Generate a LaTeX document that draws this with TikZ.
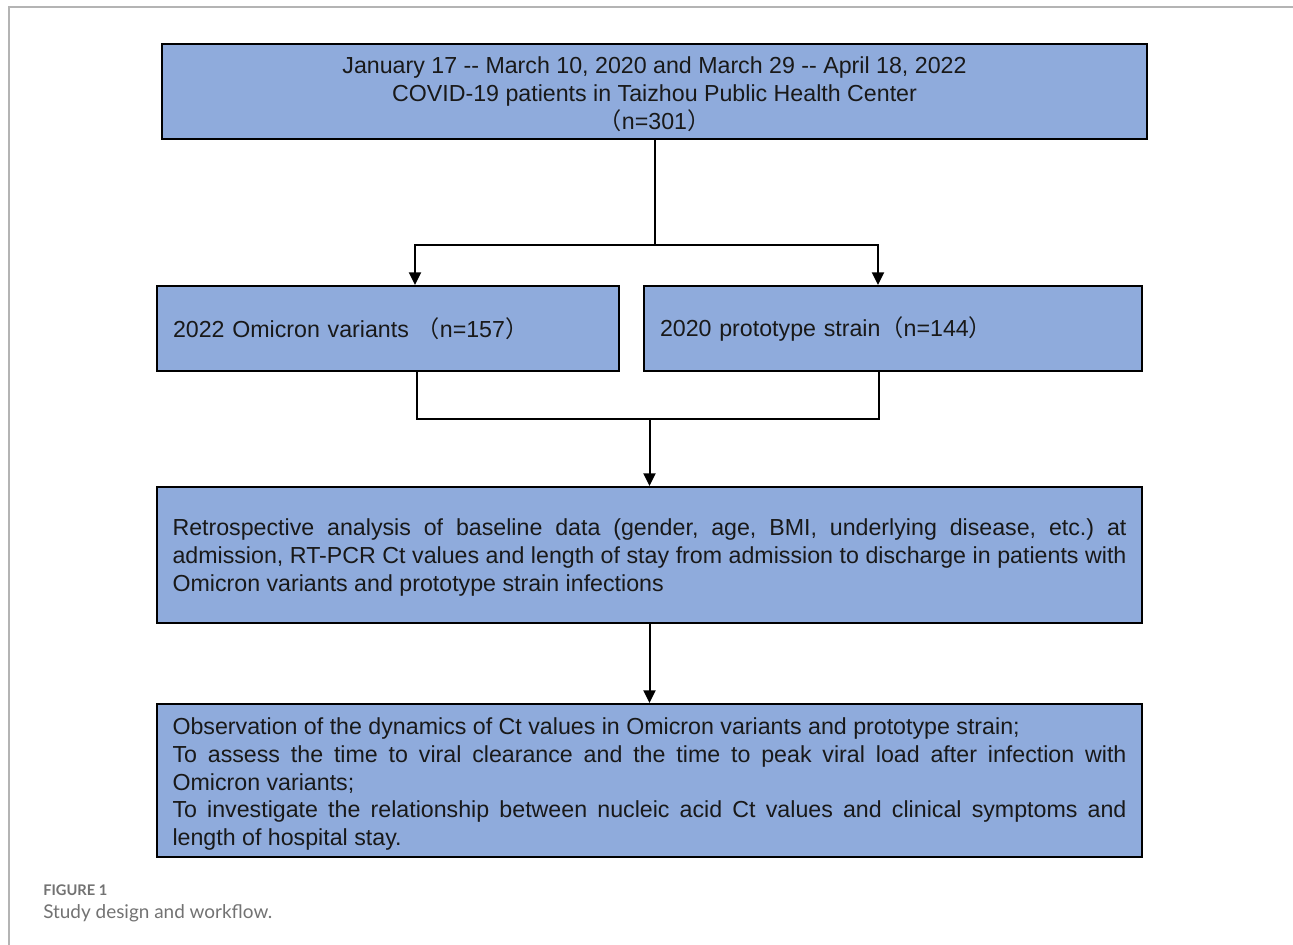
\documentclass[tikz,border=0pt]{standalone}
\usepackage{fontspec}
\setmainfont{Liberation Sans}
\newfontfamily\cjk{Noto Sans CJK SC}
\newfontfamily\capfont{Lato}
\usetikzlibrary{arrows.meta,calc}
\definecolor{boxblue}{HTML}{8FABDC}
\definecolor{capgray}{HTML}{727272}
\definecolor{framegray}{HTML}{B4B4B4}
\frenchspacing
\newcommand\tstrut[1]{\rule{0pt}{\dimexpr0.73em+#1\relax}}
\begin{document}
\begin{tikzpicture}[x=0.75pt,y=-0.75pt,
  box/.style={draw=black,line width=1.5pt,fill=boxblue,inner sep=0pt,
    font=\fontsize{17.4}{20.8}\selectfont,text=black!90},
  conn/.style={draw=black,line width=1.5pt},
  arr/.style={conn,-{Triangle[width=9pt,length=9.5pt]}},
  captitle/.style={anchor=base west,inner sep=0pt,text=capgray,font=\capfont\bfseries\fontsize{11}{12}\selectfont},
  captext/.style={anchor=base west,inner sep=0pt,text=capgray,font=\capfont\fontsize{14.2}{16}\selectfont}]
\useasboundingbox (0,0) rectangle (1293,945);
\draw[framegray,line width=1.2pt] (9,945) -- (9,7) -- (1293,7);

\node[box,minimum width=738.75pt,minimum height=71.25pt,align=center] (top) at (654.5,91.5)
  {\tstrut{3.75pt}January 17 -{}- March 10, 2020 and March 29 -{}- April 18, 2022\\
   COVID-19 patients in Taizhou Public Health Center\\
   {\cjk（}n=301{\cjk）}};

\node[box,minimum width=346.5pt,minimum height=63.75pt,text width=322.5pt,align=left] (omi) at (388,328.5)
  {2022 Omicron variants {\cjk（}n=157{\cjk）}};
\node[box,minimum width=373.5pt,minimum height=63.75pt,text width=349.5pt,align=left] (pro) at (893,328.5)
  {2020 prototype strain{\cjk（}n=144{\cjk）}};

\node[box,minimum width=738.75pt,minimum height=102pt,text width=715.5pt,align=justify] (retro) at (649.5,555)
  {\tstrut{3.75pt}Retrospective analysis of baseline data (gender, age, BMI, underlying disease, etc.) at\linebreak
   admission, RT-PCR Ct values and length of stay from admission to discharge in patients with\linebreak
   Omicron variants and prototype strain infections};

\node[box,minimum width=738.75pt,minimum height=114.75pt,text width=715.5pt,align=justify] (obs) at (649.5,780.5)
  {\tstrut{5.25pt}Observation of the dynamics of Ct values in Omicron variants and prototype strain;\newline
   To assess the time to viral clearance and the time to peak viral load after infection with\linebreak
   Omicron variants;\newline
   To investigate the relationship between nucleic acid Ct values and clinical symptoms and\linebreak
   length of hospital stay.};

% split
\coordinate (j1) at (654.5,245);
\draw[conn] (top.south) -- (j1);
\draw[arr] (j1) -| ($(omi.north)+(27,0)$);
\draw[arr] (j1) -| ($(pro.north)+(-15,0)$);

% merge
\coordinate (j2) at (649.5,419);
\draw[conn] ($(omi.south)+(29,0)$) |- (j2);
\draw[conn] ($(pro.south)+(-14,0)$) |- (j2);
\draw[arr] (j2) -- (retro.north);

\draw[arr] (retro.south) -- (obs.north);

\node[captitle] (figlab) at (43,895) {FIGURE 1};
\node[captext] (figcap) at (43,918) {Study design and workflow.};
\end{tikzpicture}
\end{document}
